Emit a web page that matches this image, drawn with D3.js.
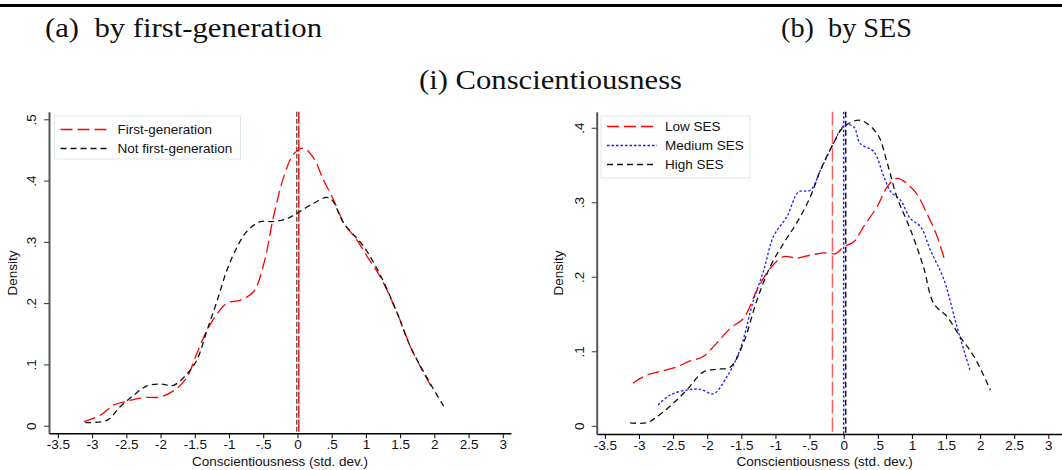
<!DOCTYPE html>
<html>
<head>
<meta charset="utf-8">
<script src="https://cdn.jsdelivr.net/npm/d3@7"></script>
<style>
  html, body { margin: 0; padding: 0; background: #fff; }
  svg { display: block; }
</style>
</head>
<body>
<svg id="chart" width="1062" height="470"></svg>
<script>
// ---------- DATA ----------
const panelTitles = ["(a)  by first-generation", "(b)  by SES"];
const rowTitle = "(i) Conscientiousness";
const xTitle = "Conscientiousness (std. dev.)";
const yTitle = "Density";
const xTicks = [-3.5, -3, -2.5, -2, -1.5, -1, -0.5, 0, 0.5, 1, 1.5, 2, 2.5, 3];
const xTickLabels = ["-3.5", "-3", "-2.5", "-2", "-1.5", "-1", "-.5", "0", ".5", "1", "1.5", "2", "2.5", "3"];
const yTicksA = [0, 0.1, 0.2, 0.3, 0.4, 0.5];
const yTickLabelsA = ["0", ".1", ".2", ".3", ".4", ".5"];
const yTicksB = [0, 0.1, 0.2, 0.3, 0.4];
const yTickLabelsB = ["0", ".1", ".2", ".3", ".4"];

// Panel (a): First-generation
const firstGenX = [-3.12, -2.88, -2.68, -2.49, -2.25, -2.0, -1.76, -1.61, -1.47, -1.32, -1.17, -1.03, -0.83, -0.64, -0.49, -0.35, -0.20, -0.05, 0.09, 0.24, 0.38, 0.53, 0.68, 0.87, 1.02, 1.21, 1.46, 1.65, 1.85, 1.97];
const firstGenY = [0.0065, 0.017, 0.034, 0.040, 0.046, 0.047, 0.061, 0.080, 0.118, 0.156, 0.183, 0.200, 0.205, 0.219, 0.265, 0.341, 0.406, 0.444, 0.453, 0.436, 0.401, 0.368, 0.330, 0.303, 0.276, 0.243, 0.183, 0.129, 0.085, 0.061];
// Panel (a): Not first-generation
const notFirstGenX = [-3.10, -2.78, -2.59, -2.39, -2.20, -2.0, -1.81, -1.61, -1.47, -1.32, -1.17, -1.03, -0.88, -0.74, -0.54, -0.35, -0.15, 0.0, 0.19, 0.46, 0.68, 0.97, 1.21, 1.46, 1.65, 1.94, 2.14];
const notFirstGenY = [0.005, 0.009, 0.031, 0.050, 0.065, 0.068, 0.066, 0.085, 0.107, 0.156, 0.205, 0.254, 0.292, 0.317, 0.333, 0.333, 0.338, 0.347, 0.360, 0.372, 0.330, 0.292, 0.246, 0.183, 0.129, 0.069, 0.031];
const meansA = [0.02, -0.01]; // first-gen, not first-gen

// Panel (b): Low SES
const lowSesX = [-3.09, -2.89, -2.64, -2.45, -2.25, -2.06, -1.86, -1.66, -1.47, -1.27, -1.08, -0.88, -0.69, -0.49, -0.29, -0.12, 0.0, 0.15, 0.29, 0.49, 0.64, 0.78, 1.03, 1.22, 1.37, 1.48];
const lowSesY = [0.057, 0.068, 0.074, 0.079, 0.087, 0.093, 0.111, 0.131, 0.144, 0.182, 0.211, 0.227, 0.225, 0.229, 0.232, 0.231, 0.240, 0.247, 0.267, 0.294, 0.321, 0.332, 0.316, 0.285, 0.254, 0.222];
// Panel (b): Medium SES
const medSesX = [-2.72, -2.55, -2.30, -2.10, -1.91, -1.71, -1.52, -1.32, -1.17, -1.03, -0.83, -0.66, -0.49, -0.34, -0.15, 0.02, 0.15, 0.24, 0.44, 0.59, 0.69, 0.83, 0.98, 1.13, 1.27, 1.47, 1.66, 1.85];
const medSesY = [0.028, 0.041, 0.048, 0.049, 0.043, 0.066, 0.102, 0.169, 0.209, 0.254, 0.281, 0.314, 0.316, 0.343, 0.379, 0.404, 0.401, 0.379, 0.368, 0.334, 0.314, 0.303, 0.278, 0.267, 0.236, 0.196, 0.133, 0.075];
// Panel (b): High SES
const highSesX = [-3.13, -2.89, -2.74, -2.50, -2.30, -2.06, -1.86, -1.66, -1.47, -1.27, -1.08, -0.88, -0.69, -0.49, -0.34, -0.15, 0.0, 0.24, 0.49, 0.64, 0.78, 0.98, 1.17, 1.32, 1.52, 1.71, 1.91, 2.15];
const highSesY = [0.004, 0.004, 0.012, 0.030, 0.048, 0.072, 0.076, 0.079, 0.111, 0.169, 0.213, 0.245, 0.272, 0.307, 0.343, 0.379, 0.401, 0.410, 0.392, 0.352, 0.307, 0.263, 0.213, 0.164, 0.146, 0.119, 0.093, 0.048];
const meansB = [-0.165, 0.0, 0.03]; // low, medium, high

const seriesNamesA = ["First-generation", "Not first-generation"];
const seriesNamesB = ["Low SES", "Medium SES", "High SES"];

// ---------- STYLES ----------
const styles = {
  red:   { color: "#ff0000", dash: "12,5", width: 1.3 },
  black: { color: "#111111", dash: "6,4", width: 1.3 },
  blue:  { color: "#1a1aff", dash: "2.5,2", width: 1.3 }
};

const svg = d3.select("#chart");
const sans = "Liberation Sans, Arial, sans-serif";
const serif = "Liberation Serif, Times New Roman, serif";

// Header rule
svg.append("line").attr("x1", 0).attr("x2", 1062).attr("y1", 5.5).attr("y2", 5.5)
  .attr("stroke", "#000").attr("stroke-width", 3);

function serifText(x, y, str, len) {
  svg.append("text").attr("x", x).attr("y", y).attr("font-family", serif)
    .attr("font-size", 27).attr("fill", "#111")
    .attr("textLength", len).attr("lengthAdjust", "spacingAndGlyphs")
    .style("white-space", "pre").text(str);
}
serifText(45, 37, panelTitles[0], 277);
serifText(781, 37, panelTitles[1], 131);
serifText(419, 89, rowTitle, 263);

function zip(xs, ys) { return xs.map((x, i) => [x, ys[i]]); }

function panel(cfg) {
  const g = svg.append("g");
  const x = d3.scaleLinear().domain(cfg.xDomain).range(cfg.xRange);
  const y = d3.scaleLinear().domain(cfg.yDomain).range(cfg.yRange);

  // X axis
  const xAxis = d3.axisBottom(x).tickValues(xTicks).tickSize(5).tickSizeOuter(0)
    .tickFormat((d, i) => xTickLabels[i]);
  const xa = g.append("g").attr("transform", `translate(0,${cfg.yRange[0]})`).call(xAxis);
  xa.select(".domain").attr("stroke", "#000").attr("stroke-width", 1.5);
  xa.selectAll(".tick line").attr("stroke", "#000").attr("stroke-width", 1);
  xa.selectAll(".tick text").attr("font-family", sans).attr("font-size", 13.5).attr("fill", "#111").attr("dy", "0.6em");

  // Y axis
  const yAxis = d3.axisLeft(y).tickValues(cfg.yTicks).tickSize(5).tickSizeOuter(0)
    .tickFormat((d, i) => cfg.yTickLabels[i]);
  const ya = g.append("g").attr("transform", `translate(${cfg.xRange[0]},0)`).call(yAxis);
  ya.select(".domain").attr("stroke", "#555").attr("stroke-width", 2);
  ya.selectAll(".tick line").attr("stroke", "#333").attr("stroke-width", 1);
  ya.selectAll(".tick text")
    .attr("font-family", sans).attr("font-size", 13.5).attr("fill", "#111")
    .attr("x", null).attr("dy", null)
    .attr("text-anchor", "middle")
    .attr("transform", "translate(-17.5,0) rotate(-90)")
    .attr("y", 0).attr("dy", "0.35em");

  // Titles
  g.append("text").attr("x", (cfg.xRange[0] + x(3.12)) / 2 + cfg.xTitleShift).attr("y", 466)
    .attr("text-anchor", "middle").attr("font-family", sans).attr("font-size", 13.5).attr("fill", "#111")
    .text(xTitle);
  g.append("text").attr("transform", `translate(${cfg.yTitleX},273) rotate(-90)`)
    .attr("text-anchor", "middle").attr("font-family", sans).attr("font-size", 13.5).attr("fill", "#111")
    .text(yTitle);

  // Mean lines
  cfg.means.forEach((m, i) => {
    const s = cfg.meanStyles[i];
    g.append("line").attr("x1", x(m)).attr("x2", x(m))
      .attr("y1", cfg.yRange[1]).attr("y2", cfg.yRange[0])
      .attr("stroke", s.color).attr("stroke-width", s.width)
      .attr("stroke-dasharray", s.dash).attr("opacity", s.opacity || 1);
  });

  // Curves
  const line = d3.line().x(d => x(d[0])).y(d => y(d[1])).curve(d3.curveCatmullRom.alpha(0.5));
  cfg.series.forEach(s => {
    g.append("path").datum(s.data).attr("d", line).attr("fill", "none")
      .attr("stroke", s.style.color).attr("stroke-width", s.style.width)
      .attr("stroke-dasharray", s.style.dash);
  });

  // Legend
  const L = cfg.legend;
  g.append("rect").attr("x", L.x).attr("y", L.y).attr("width", L.w).attr("height", L.h)
    .attr("fill", "#fff").attr("stroke", "#dde8ea").attr("stroke-width", 1);
  cfg.series.forEach((s, i) => {
    const yy = L.y + L.first + i * L.step;
    g.append("line").attr("x1", L.x + 6).attr("x2", L.x + 56).attr("y1", yy).attr("y2", yy)
      .attr("stroke", s.style.color).attr("stroke-width", s.style.width)
      .attr("stroke-dasharray", s.style.dash);
    g.append("text").attr("x", L.x + L.textDx).attr("y", yy).attr("dy", "0.35em")
      .attr("font-family", sans).attr("font-size", 13.5).attr("fill", "#111").text(s.name);
  });
}

panel({
  xDomain: [-3.63, 3.12], xRange: [49, 511],
  yDomain: [-0.0124, 0.5124], yRange: [433.3, 111.7],
  yTicks: yTicksA, yTickLabels: yTickLabelsA,
  xTitleShift: 0, yTitleX: 17,
  means: [meansA[1], meansA[0]],
  meanStyles: [
    { color: "#555", dash: "5,2", width: 1.4 },
    { color: "#ff0000", dash: "12,2", width: 1.4 }
  ],
  series: [
    { name: seriesNamesA[0], data: zip(firstGenX, firstGenY), style: styles.red },
    { name: seriesNamesA[1], data: zip(notFirstGenX, notFirstGenY), style: styles.black }
  ],
  legend: { x: 54.5, y: 116, w: 186, h: 43, first: 13.5, step: 19, textDx: 63 }
});

panel({
  xDomain: [-3.62, 3.2], xRange: [596.7, 1062],
  yDomain: [-0.011, 0.4215], yRange: [434, 111.7],
  yTicks: yTicksB, yTickLabels: yTickLabelsB,
  xTitleShift: -2, yTitleX: 563,
  means: meansB,
  meanStyles: [
    { color: "#ff3333", dash: "14,4", width: 1.4, opacity: 0.8 },
    { color: "#1a1aff", dash: "2.5,2", width: 1.4 },
    { color: "#111", dash: "6,3", width: 1.4 }
  ],
  series: [
    { name: seriesNamesB[0], data: zip(lowSesX, lowSesY), style: styles.red },
    { name: seriesNamesB[1], data: zip(medSesX, medSesY), style: styles.blue },
    { name: seriesNamesB[2], data: zip(highSesX, highSesY), style: styles.black }
  ],
  legend: { x: 601, y: 116, w: 149, h: 62, first: 10.5, step: 19, textDx: 64 }
});
</script>
</body>
</html>
